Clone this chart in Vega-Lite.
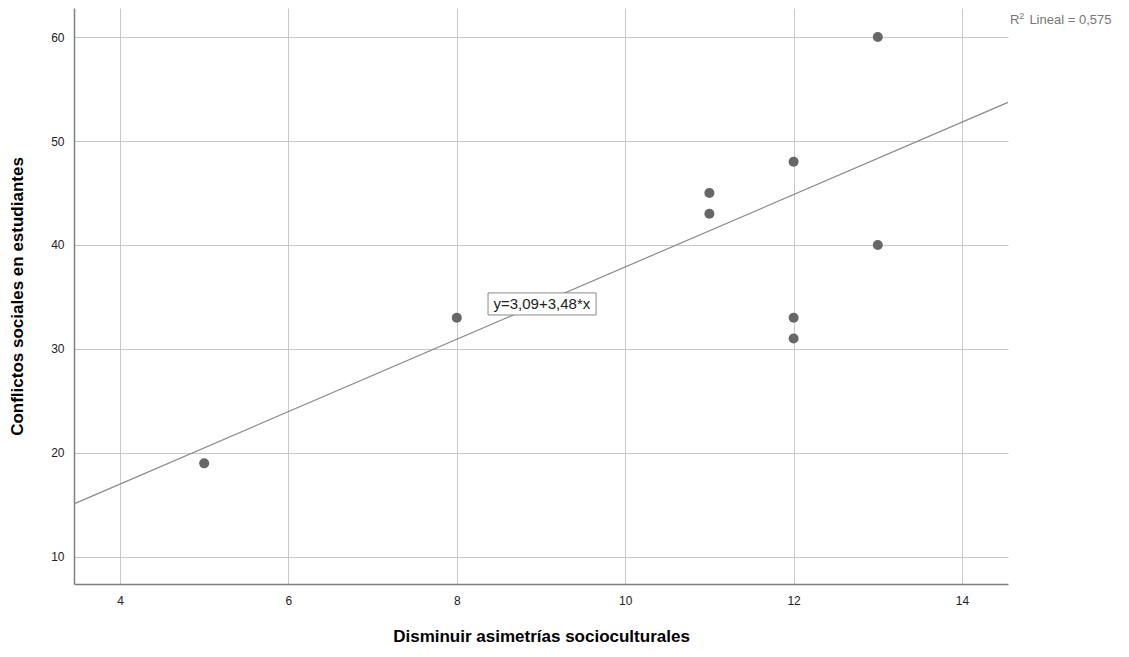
{
  "$schema": "https://vega.github.io/schema/vega-lite/v6.json",
  "width": 934,
  "height": 576,
  "autosize": {"type": "none"},
  "padding": {"left": 74, "top": 8, "right": 121, "bottom": 73},
  "background": "white",
  "config": {
    "view": {"stroke": null},
    "font": "Liberation Sans",
    "axis": {
      "gridColor": "#c8c8c8",
      "gridWidth": 1,
      "gridOpacity": 1,
      "domainColor": "#808080",
      "domainWidth": 1.5,
      "tickColor": "#808080",
      "labelColor": "#222",
      "labelFontSize": 12,
      "titleFontSize": 17,
      "titleFontWeight": "bold",
      "titleColor": "#000"
    }
  },
  "datasets": {
    "pts": [
      {"x": 5, "y": 19},
      {"x": 8, "y": 33},
      {"x": 11, "y": 45},
      {"x": 11, "y": 43},
      {"x": 12, "y": 48},
      {"x": 12, "y": 33},
      {"x": 12, "y": 31},
      {"x": 13, "y": 60},
      {"x": 13, "y": 40}
    ],
    "fit": [
      {"x": 3.454, "y": 15.11, "x2": 14.546, "y2": 53.71}
    ],
    "box": [
      {"x": 8.371, "x2": 9.654, "y": 35.39, "y2": 33.27}
    ],
    "eq": [
      {"x": 9.01, "y": 34.33, "label": "y=3,09+3,48*x"}
    ],
    "r2": [
      {"x": 14.57, "y": 61.64, "label": "R", "fs": 13},
      {"x": 14.68, "y": 62.05, "label": "2", "fs": 9},
      {"x": 14.80, "y": 61.64, "label": "Lineal = 0,575", "fs": 13}
    ]
  },
  "layer": [
    {
      "data": {"name": "pts"},
      "mark": {"type": "point", "filled": true, "size": 100, "color": "#676767", "opacity": 1},
      "encoding": {
        "x": {
          "field": "x", "type": "quantitative",
          "scale": {"domain": [3.454, 14.546], "nice": false, "zero": false},
          "axis": {"title": "Disminuir asimetrías socioculturales", "values": [4, 6, 8, 10, 12, 14], "format": "d", "grid": true, "tickSize": 0, "labelPadding": 11, "titlePadding": 22}
        },
        "y": {
          "field": "y", "type": "quantitative",
          "scale": {"domain": [7.4, 62.79], "nice": false, "zero": false},
          "axis": {"title": "Conflictos sociales en estudiantes", "values": [10, 20, 30, 40, 50, 60], "format": "d", "grid": true, "tickSize": 0, "labelPadding": 10, "titlePadding": 24}
        }
      }
    },
    {
      "data": {"name": "fit"},
      "mark": {"type": "rule", "color": "#8a8a8a", "strokeWidth": 1.2},
      "encoding": {
        "x": {"field": "x", "type": "quantitative"},
        "y": {"field": "y", "type": "quantitative"},
        "x2": {"field": "x2"},
        "y2": {"field": "y2"}
      }
    },
    {
      "data": {"name": "box"},
      "mark": {"type": "rect", "fill": "white", "stroke": "#8a8a8a", "strokeWidth": 1},
      "encoding": {
        "x": {"field": "x", "type": "quantitative"},
        "x2": {"field": "x2"},
        "y": {"field": "y", "type": "quantitative"},
        "y2": {"field": "y2"}
      }
    },
    {
      "data": {"name": "eq"},
      "mark": {"type": "text", "fontSize": 15, "color": "#222", "align": "center", "baseline": "middle"},
      "encoding": {
        "x": {"field": "x", "type": "quantitative"},
        "y": {"field": "y", "type": "quantitative"},
        "text": {"field": "label"}
      }
    },
    {
      "data": {"name": "r2"},
      "mark": {"type": "text", "color": "#777", "align": "left", "baseline": "middle", "clip": false},
      "encoding": {
        "x": {"field": "x", "type": "quantitative"},
        "y": {"field": "y", "type": "quantitative"},
        "text": {"field": "label"},
        "size": {"field": "fs", "type": "quantitative", "scale": null, "legend": null}
      }
    }
  ]
}
